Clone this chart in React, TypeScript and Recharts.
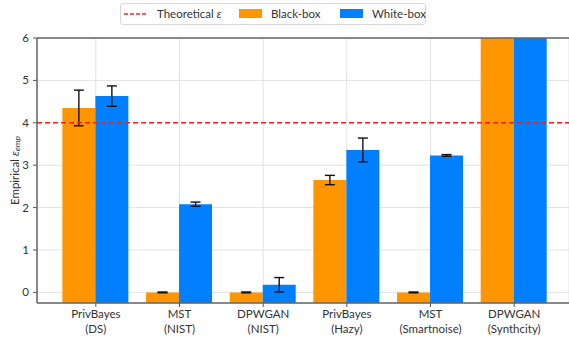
import React from 'react';
import { BarChart, Bar, XAxis, YAxis, CartesianGrid, ErrorBar, ReferenceLine } from 'recharts';

const methods = ['PrivBayes', 'MST', 'DPWGAN', 'PrivBayes', 'MST', 'DPWGAN'];
const libraries = ['(DS)', '(NIST)', '(NIST)', '(Hazy)', '(Smartnoise)', '(Synthcity)'];
const blackBox = [4.35, 0.0, 0.0, 2.65, 0.0, 6];
const blackErr = [0.42, 0.01, 0.01, 0.11, 0.01, 0];
const whiteBox = [4.63, 2.08, 0.18, 3.36, 3.23, 6];
const whiteErr = [0.24, 0.05, 0.17, 0.28, 0.02, 0];
const yTicks = [0, 1, 2, 3, 4, 5, 6];
const theoreticalEps = 4;

const Y_MIN = -0.25;
const Y_MAX = 6;
const ORANGE = '#FF9500';
const BLUE = '#0080FF';
const FONT = 'Lato, "Open Sans", sans-serif';

const chartData = methods.map((m, i) => ({
  name: `${m} ${libraries[i]}`,
  black: [Y_MIN, blackBox[i]],
  blackErr: blackErr[i],
  white: [Y_MIN, whiteBox[i]],
  whiteErr: whiteErr[i],
}));

const XTick = (props: any) => {
  const { x, y, payload } = props;
  const i = payload.index;
  return (
    <text x={x} y={y} textAnchor="middle" fontSize={11.5} fill="#333" fontFamily={FONT}>
      <tspan x={x} dy={9}>{methods[i]}</tspan>
      <tspan x={x} dy={15}>{libraries[i]}</tspan>
    </text>
  );
};

const item = (left: number): React.CSSProperties => ({
  position: 'absolute',
  left,
  top: 0,
  height: 20,
  lineHeight: '20px',
  whiteSpace: 'nowrap',
});

const Legend = () => (
  <div
    style={{
      position: 'absolute',
      left: 120,
      top: 3,
      width: 304,
      height: 20,
      border: '1px solid #d8d8d8',
      borderRadius: 3,
      background: '#fff',
      fontFamily: FONT,
      fontSize: 11.5,
      color: '#333',
      boxSizing: 'content-box',
    }}
  >
    <svg width={26} height={20} style={{ ...item(3) }}>
      <line x1={0} y1={10} x2={24} y2={10} stroke="#ff2020" strokeWidth={1.5} strokeDasharray="4 2" />
    </svg>
    <span style={item(36)}>
      Theoretical <i>ε</i>
    </span>
    <div style={{ position: 'absolute', left: 118, top: 5, width: 23, height: 9, background: ORANGE }} />
    <span style={item(150)}>Black-box</span>
    <div style={{ position: 'absolute', left: 219, top: 5, width: 23, height: 9, background: BLUE }} />
    <span style={item(251)}>White-box</span>
  </div>
);

export default function App() {
  return (
    <div style={{ position: 'absolute', left: 0, top: 0, width: 569, height: 339, background: '#fff' }}>
      <BarChart
        width={569}
        height={339}
        data={chartData}
        margin={{ top: 38, right: 0, left: 0, bottom: 0 }}
        barCategoryGap="10%"
        barGap={0}
      >
        <CartesianGrid stroke="#e2e2e2" strokeWidth={1} />
        <XAxis
          dataKey="name"
          height={36}
          padding={{ left: 17, right: 13 }}
          tickLine={{ stroke: '#555' }}
          tickSize={4}
          axisLine={{ stroke: '#666', strokeWidth: 1.5 }}
          tick={<XTick />}
          interval={0}
        />
        <YAxis
          type="number"
          domain={[Y_MIN, Y_MAX]}
          ticks={yTicks}
          allowDataOverflow
          width={37}
          tickSize={4}
          tickMargin={4}
          tickLine={{ stroke: '#555' }}
          axisLine={{ stroke: '#666', strokeWidth: 1.5 }}
          tick={{ fontSize: 11.5, fill: '#333', fontFamily: FONT }}
          label={(p: any) => {
            const vb = p.viewBox;
            const cx = 14;
            const cy = vb.y + vb.height / 2;
            return (
              <text
                x={cx}
                y={cy}
                transform={`rotate(-90 ${cx} ${cy})`}
                textAnchor="middle"
                dominantBaseline="central"
                fontSize={11.5}
                fill="#333"
                fontFamily={FONT}
              >
                Empirical <tspan fontStyle="italic">ε</tspan>
                <tspan fontStyle="italic" fontSize={8.5} dy={3}>emp</tspan>
              </text>
            );
          }}
        />
        <Bar dataKey="black" fill={ORANGE} isAnimationActive={false}>
          <ErrorBar dataKey="blackErr" direction="y" width={5} stroke="#111" strokeWidth={1.4} />
        </Bar>
        <Bar dataKey="white" fill={BLUE} isAnimationActive={false}>
          <ErrorBar dataKey="whiteErr" direction="y" width={5} stroke="#111" strokeWidth={1.4} />
        </Bar>
        <ReferenceLine y={theoreticalEps} stroke="#ff1a1a" strokeWidth={1.5} strokeDasharray="5 3" />
        <ReferenceLine y={Y_MAX} stroke="#666" strokeWidth={1.5} />
      </BarChart>
      <Legend />
    </div>
  );
}
